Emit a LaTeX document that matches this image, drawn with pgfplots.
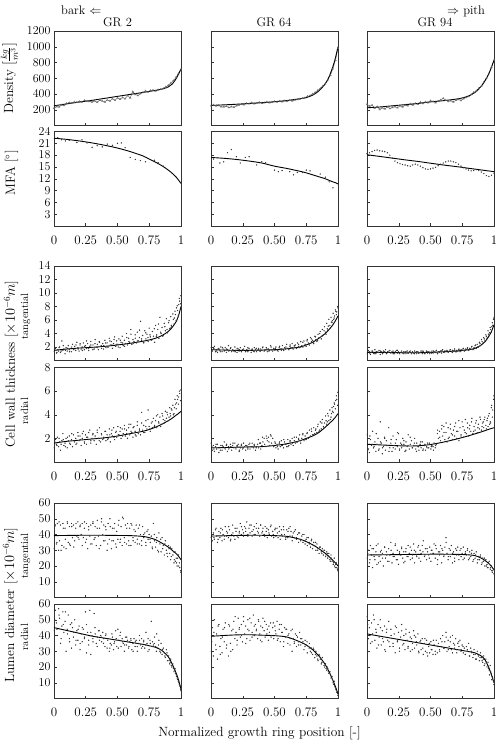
\documentclass[border=0pt]{standalone}
\usepackage{pgfplots}
\usepackage{pgfplotstable}
\pgfplotsset{compat=1.18}

% Measured density profiles (kg/m^3)
\pgfplotstableread{
x d2 d64 d94
0.00 220 250 270
0.02 240 262 245
0.04 235 248 260
0.06 262 255 220
0.08 255 240 240
0.10 280 235 205
0.12 290 245 225
0.14 285 228 210
0.16 300 240 235
0.18 295 232 215
0.20 305 250 230
0.22 298 262 240
0.24 318 270 225
0.26 310 265 250
0.28 305 280 235
0.30 300 275 260
0.32 312 290 250
0.34 295 278 275
0.36 320 285 262
0.38 310 295 280
0.40 300 282 270
0.42 325 290 295
0.44 310 300 280
0.46 340 288 300
0.48 320 295 290
0.50 350 305 315
0.52 335 298 305
0.54 355 310 290
0.56 340 302 310
0.58 380 315 325
0.60 350 308 345
0.62 430 320 320
0.64 395 312 305
0.66 380 325 315
0.68 405 330 300
0.70 420 338 320
0.72 440 345 330
0.74 425 352 318
0.76 445 370 340
0.78 450 380 355
0.80 440 400 370
0.82 455 420 395
0.84 460 445 420
0.86 470 470 440
0.88 490 500 470
0.90 510 530 500
0.92 540 580 550
0.94 570 640 600
0.96 610 720 660
0.98 660 830 740
1.00 710 980 830
}\density

% Fitted trends for all panels
\pgfplotstableread{
x    d2  d64  d94  m2   m64  m94   ct2  ct64 ct94 cr2  cr64 cr94 lt2  lt64 lt94 lr2  lr64 lr94
0    250 255  225  22.3 17.4 18.1  1.5  1.6  1.2  1.6  1.2  1.5  39.3 39.0 27.0 45.0 39.5 41.0
0.1  275 262  235  22.0 17.2 17.67 1.7  1.55 1.2  1.75 1.22 1.45 39.4 39.2 27.1 43.2 40.0 39.6
0.2  298 270  250  21.6 16.9 17.24 1.85 1.5  1.18 1.85 1.25 1.4  39.5 39.4 27.2 41.4 40.4 38.2
0.3  320 280  265  21.1 16.5 16.8  1.95 1.5  1.15 1.95 1.28 1.36 39.5 39.5 27.3 39.6 40.5 36.8
0.4  345 290  280  20.5 16.0 16.4  2.1  1.55 1.15 2.05 1.3  1.37 39.5 39.5 27.4 38.3 40.2 35.4
0.5  370 302  300  19.8 15.2 15.95 2.3  1.6  1.2  2.2  1.4  1.48 39.4 39.3 27.5 37.0 39.9 34.0
0.6  395 318  315  18.9 14.6 15.5  2.55 1.75 1.3  2.4  1.55 1.68 39.3 38.8 27.5 35.7 39.0 32.6
0.7  420 340  335  17.8 13.9 15.1  2.85 2.0  1.4  2.6  1.8  1.93 38.8 37.0 27.4 34.4 36.0 31.2
0.75 433 355  350  17.0 13.5 14.9  3.05 2.3  1.5  2.75 2.0  2.07 38.0 35.5 27.3 33.5 34.0 30.5
0.8  446 385  375  16.2 13.0 14.66 3.3  2.7  1.6  2.95 2.2  2.22 36.7 33.5 27.1 32.5 31.0 29.8
0.85 462 440  420  15.3 12.5 14.45 3.7  3.3  1.8  3.2  2.5  2.38 34.5 31.0 26.6 30.5 27.0 29.0
0.9  490 530  500  14.2 12.0 14.23 4.3  4.0  2.3  3.5  2.95 2.55 32.0 28.0 25.0 26.5 21.5 27.0
0.93 525 620  570  13.4 11.6 14.1  4.9  4.6  2.8  3.7  3.25 2.66 30.0 26.0 23.5 22.0 17.0 24.5
0.96 590 750  660  12.5 11.2 13.97 5.7  5.3  3.6  3.95 3.55 2.77 28.0 23.5 21.5 16.5 11.5 19.5
0.98 650 860  740  11.7 11.0 13.89 6.6  5.9  4.3  4.1  3.8  2.84 26.3 22.0 19.8 12.0 7.5  15.0
1.0  720 1000 830  10.8 10.7 13.8  8.0  6.6  5.3  4.3  4.1  2.9  24.0 20.0 17.5 6.0  3.0  10.0
}\fits

% Microfibril angle measurements (degrees)
\pgfplotstableread{
x m
0.03 22.4
0.06 21.9
0.09 21.6
0.12 21.8
0.18 21.2
0.22 21.9
0.26 21.1
0.30 20.0
0.34 20.4
0.38 20.1
0.42 20.8
0.46 20.5
0.50 21.0
0.53 21.1
0.56 19.9
0.60 17.4
0.64 16.9
0.68 16.6
0.72 16.3
0.79 16.7
0.82 16.1
0.86 15.2
}\mfaA
\pgfplotstableread{
x m
0.02 17.0
0.07 16.0
0.10 16.3
0.13 18.6
0.16 19.4
0.20 17.6
0.23 16.0
0.27 17.4
0.30 17.6
0.36 15.5
0.40 16.3
0.43 16.1
0.50 14.2
0.53 13.8
0.56 14.1
0.62 13.8
0.65 13.0
0.68 13.6
0.72 13.6
0.75 14.2
0.78 14.0
0.86 13.2
0.90 12.4
0.93 11.2
0.96 9.7
}\mfaB
\pgfplotstableread{
x m
0.00 18.4
0.02 18.6
0.04 18.9
0.06 19.2
0.08 19.3
0.10 19.1
0.12 19.0
0.14 18.9
0.16 18.6
0.18 18.0
0.20 17.2
0.22 16.5
0.24 16.1
0.26 15.8
0.28 15.6
0.30 15.5
0.32 15.3
0.34 15.2
0.36 15.5
0.38 15.7
0.40 15.5
0.42 15.2
0.44 14.8
0.46 14.5
0.48 14.4
0.50 14.5
0.52 14.7
0.54 14.9
0.56 15.3
0.58 15.7
0.60 16.0
0.62 16.3
0.64 16.5
0.66 16.5
0.68 16.3
0.70 16.1
0.72 15.7
0.74 15.2
0.76 14.8
0.78 14.5
0.80 14.2
0.82 14.0
0.84 14.1
0.86 14.3
0.88 14.1
0.90 13.7
0.92 13.3
0.94 12.8
0.96 12.6
0.98 12.9
1.00 13.4
}\mfaC

% Cell wall thickness (1e-6 m): tangential t*, radial r*
\pgfplotstableread{
x t2 t64 t94 r2 r64 r94
0.002 1.3 1.9 1.0 1.2 1.6 2.3
0.011 1.8 1.4 1.5 1.9 1.0 1.1
0.019 1.1 1.7 1.3 1.5 1.4 0.8
0.027 1.6 2.1 0.9 2.1 0.9 1.9
0.036 1.4 1.3 1.2 1.3 1.3 1.4
0.044 2.0 1.6 1.4 1.7 1.1 2.6
0.051 1.2 1.2 1.1 1.0 1.5 1.2
0.062 2.9 1.8 1.6 1.8 0.8 1.7
0.070 1.5 1.5 1.0 2.4 1.2 0.9
0.078 1.7 2.0 1.3 1.4 1.4 1.5
0.087 1.0 1.3 1.2 1.6 1.0 2.0
0.095 1.9 1.7 1.5 2.0 1.3 1.1
0.104 1.4 1.4 0.9 1.2 1.7 3.4
0.112 2.2 1.9 1.3 1.8 1.1 1.6
0.121 1.6 1.2 1.1 2.2 1.4 0.7
0.129 1.8 1.6 1.4 1.5 0.9 1.3
0.138 1.3 2.2 1.2 1.9 1.3 2.1
0.146 2.4 1.5 1.6 1.3 1.2 1.0
0.153 1.7 1.8 1.0 2.3 1.5 1.8
0.163 2.1 1.3 1.3 1.7 1.0 1.4
0.171 1.5 1.6 1.2 2.0 1.4 2.9
0.180 2.7 1.4 1.5 1.6 1.2 1.2
0.188 1.9 2.0 1.1 2.5 1.6 1.6
0.197 1.4 1.5 1.3 1.8 1.1 0.9
0.205 2.3 1.2 1.4 2.2 1.3 2.2
0.214 1.7 1.7 1.0 1.4 1.5 1.4
0.222 2.0 1.4 1.2 2.0 0.9 1.1
0.231 2.6 1.9 1.5 2.6 1.2 1.9
0.239 1.6 1.3 1.1 1.7 1.4 1.3
0.248 2.2 1.6 1.3 2.3 1.1 2.4
0.256 1.8 1.5 1.0 1.5 1.6 1.0
0.265 2.5 2.1 1.2 2.1 1.3 1.6
0.273 1.5 1.4 1.4 1.9 1.0 1.2
0.282 2.1 1.6 1.1 2.7 1.4 2.0
0.290 2.8 1.3 1.3 1.6 1.2 1.5
0.299 1.9 1.8 1.2 2.0 1.5 0.9
0.307 2.3 1.5 1.0 2.4 1.1 1.7
0.316 1.7 1.2 1.4 1.8 1.3 1.3
0.324 3.1 1.7 1.1 2.2 1.6 2.3
0.333 2.0 1.4 1.3 1.5 1.2 1.1
0.341 2.4 1.9 1.2 2.5 1.4 1.5
0.350 1.6 1.6 1.0 2.0 1.0 1.8
0.358 2.7 1.3 1.3 2.9 1.3 1.2
0.367 2.1 1.5 1.1 1.7 1.5 1.4
0.375 1.8 1.8 1.4 2.3 1.2 2.0
0.384 2.5 1.4 1.2 1.9 1.6 1.1
0.392 2.2 1.7 1.0 2.1 1.1 1.6
0.401 3.0 1.5 1.3 2.6 1.4 1.3
0.409 1.9 2.0 1.1 1.8 1.7 1.0
0.418 2.6 1.4 1.2 2.3 2.0 1.5
0.426 2.0 1.6 1.4 2.0 1.3 1.2
0.435 3.3 1.9 1.0 2.8 2.2 1.7
0.443 2.3 1.3 1.3 1.7 1.8 1.1
0.452 2.8 1.7 1.1 2.4 2.1 1.4
0.460 1.8 1.5 1.2 2.2 1.4 1.0
0.469 2.5 2.2 1.4 2.9 2.3 1.3
0.477 3.5 1.6 1.1 1.9 1.6 1.6
0.486 2.1 1.4 1.3 2.5 2.0 1.2
0.494 2.9 1.8 1.0 2.1 1.3 1.5
0.503 2.4 1.5 1.2 3.0 1.7 1.1
0.511 3.2 2.0 1.4 2.3 1.2 1.4
0.520 1.9 1.6 1.1 2.6 1.5 1.3
0.528 2.7 1.4 1.3 2.0 1.1 1.6
0.537 3.6 1.9 1.2 2.8 1.6 1.2
0.545 2.2 1.7 1.5 2.4 1.3 1.5
0.554 3.0 1.5 1.1 3.1 1.8 2.4
0.562 2.5 2.2 1.3 2.2 1.4 2.0
0.571 4.0 1.6 1.2 2.7 1.2 2.6
0.579 2.3 1.9 1.4 2.0 1.7 1.8
0.588 3.3 1.7 1.1 2.9 1.5 2.8
0.596 2.7 2.4 1.6 2.3 1.3 2.2
0.605 4.6 1.8 1.2 3.2 1.9 3.0
0.613 2.4 1.6 1.4 2.5 1.4 1.9
0.622 3.1 2.1 1.3 2.1 1.7 2.5
0.630 2.8 1.9 1.5 3.0 1.5 1.7
0.639 3.8 2.5 1.2 2.6 2.0 2.9
0.647 2.6 1.7 1.4 2.2 1.4 2.1
0.656 4.2 2.0 1.6 3.4 1.8 3.2
0.664 2.9 2.3 1.3 2.4 1.6 2.4
0.673 3.4 1.8 1.5 2.8 2.1 1.9
0.681 5.8 2.6 1.4 2.3 1.7 2.7
0.690 3.0 2.1 1.7 4.2 1.9 2.2
0.698 3.7 1.9 1.3 2.7 2.3 3.3
0.707 2.6 2.8 1.5 3.1 1.6 2.0
0.715 4.4 2.2 1.4 2.5 2.0 2.6
0.724 3.2 2.0 1.7 3.5 2.4 1.8
0.732 3.9 2.9 1.3 2.8 1.8 2.9
0.741 2.8 2.4 1.6 4.4 2.2 2.3
0.749 4.8 2.1 1.5 3.0 1.9 3.4
0.758 3.5 3.1 1.8 2.6 2.5 2.1
0.766 3.0 2.6 1.4 3.3 2.0 2.7
0.775 4.3 2.3 1.7 2.9 2.7 3.6
0.783 3.6 3.4 1.6 3.7 2.2 2.4
0.792 2.7 2.8 1.9 3.1 2.6 2.9
0.800 5.2 3.0 1.5 3.5 2.3 2.2
0.809 3.8 2.5 1.8 2.9 2.9 3.1
0.817 4.6 3.6 1.7 4.0 2.4 2.6
0.826 3.3 3.1 2.1 3.3 2.8 3.7
0.834 6.4 2.8 1.6 3.8 2.5 2.4
0.843 4.0 3.9 1.9 3.2 3.2 3.0
0.851 4.9 3.4 2.2 4.1 2.6 2.7
0.860 3.7 4.3 1.8 3.6 3.4 3.5
0.868 5.5 3.2 2.4 3.3 2.8 2.5
0.877 4.4 4.6 2.0 4.3 3.6 3.2
0.885 6.2 3.8 2.7 3.7 3.0 2.8
0.894 4.1 5.0 2.2 4.0 3.3 3.6
0.902 5.6 4.2 3.1 3.5 3.9 2.7
0.911 4.7 5.5 2.5 4.6 3.2 3.3
0.919 6.5 4.5 3.4 3.9 4.1 2.9
0.928 5.0 6.1 2.9 4.4 3.5 3.8
0.936 6.9 5.2 3.8 4.8 4.4 3.1
0.945 5.4 6.4 3.3 4.1 3.8 3.5
0.953 7.3 5.6 4.4 5.3 4.6 3.0
0.962 5.9 7.0 3.7 4.5 4.2 4.1
0.970 8.1 6.3 4.9 5.6 5.0 3.4
0.979 6.7 7.5 4.2 4.9 4.5 4.6
0.987 9.2 6.8 5.6 6.0 5.6 3.8
0.996 8.4 8.0 6.1 5.2 4.8 5.3
0.006 1.6 1.5 1.3 1.7 1.3 1.0
0.023 1.2 1.8 1.1 1.4 1.1 2.2
0.040 1.9 1.4 1.4 2.0 1.5 1.5
0.056 1.4 1.7 1.0 1.5 1.2 1.3
0.073 2.2 1.3 1.3 1.9 1.0 2.4
0.090 1.5 1.9 1.2 1.3 1.4 1.0
0.106 1.8 1.5 1.4 2.1 1.2 1.7
0.123 1.3 1.7 1.0 1.6 1.5 1.2
0.140 2.0 1.4 1.3 2.4 1.1 2.0
0.156 1.6 1.9 1.1 1.8 1.3 1.4
0.173 2.3 1.5 1.4 1.5 1.6 0.9
0.190 1.7 1.3 1.2 2.2 1.2 1.9
0.206 2.5 1.8 1.0 1.9 1.4 1.2
0.223 1.5 1.6 1.3 2.4 1.0 1.6
0.240 2.1 1.4 1.5 1.6 1.5 2.5
0.256 2.9 1.7 1.1 2.1 1.2 1.1
0.273 1.8 1.3 1.2 2.5 1.4 1.5
0.290 2.3 1.9 1.0 1.8 1.1 1.8
0.306 1.6 1.5 1.3 2.3 1.6 1.0
0.323 2.5 1.6 1.1 2.0 1.3 1.4
0.340 1.9 1.3 1.4 2.7 1.5 2.1
0.356 2.8 1.8 1.2 1.8 1.2 1.2
0.373 2.2 1.6 1.0 2.4 1.9 1.6
0.390 1.7 1.4 1.3 2.0 1.6 0.9
0.406 2.6 1.9 1.1 2.6 2.1 1.3
0.423 2.0 1.5 1.2 1.9 1.5 1.7
0.440 2.9 1.7 1.4 2.3 2.0 1.0
0.456 2.3 1.4 1.0 2.7 1.7 1.5
0.473 3.1 2.0 1.3 2.1 2.2 1.2
0.490 2.4 1.6 1.2 2.6 1.4 1.6
0.506 2.0 1.8 1.1 2.3 1.6 1.3
0.523 3.0 1.5 1.4 2.9 1.3 1.0
0.540 2.6 2.1 1.2 2.2 1.7 1.4
0.556 2.1 1.7 1.0 2.8 1.4 2.7
0.573 3.4 1.5 1.3 2.4 1.9 2.1
0.590 2.8 2.0 1.5 3.2 1.5 3.1
0.606 3.9 1.8 1.2 2.6 1.3 2.5
0.623 2.5 2.3 1.4 2.9 1.8 3.3
0.640 3.3 1.9 1.3 2.3 1.6 2.0
0.656 2.9 2.2 1.6 3.1 2.1 2.8
0.673 4.5 1.8 1.2 2.7 1.7 2.3
0.690 3.2 2.4 1.5 3.3 2.0 3.0
0.706 2.7 2.0 1.3 2.5 1.8 2.6
0.723 4.1 2.7 1.6 3.0 2.3 3.5
0.740 3.4 2.2 1.4 3.6 1.9 2.2
0.756 3.8 2.9 1.7 2.8 2.4 3.0
0.773 3.1 2.5 1.5 3.4 2.1 2.5
0.790 4.7 3.2 1.8 3.0 2.8 3.3
0.806 3.6 2.6 1.6 3.9 2.3 2.8
0.823 5.4 3.5 2.0 3.4 2.7 3.4
0.840 4.2 3.0 1.7 3.0 3.0 2.6
0.856 3.6 4.0 2.3 3.9 2.7 3.3
0.873 5.0 3.6 2.0 3.5 3.3 2.9
0.890 4.6 4.4 2.5 4.2 2.9 3.8
0.906 5.9 3.9 2.8 3.8 3.5 3.0
0.923 5.2 5.1 3.2 4.5 3.9 3.6
0.940 6.1 4.8 3.6 4.0 3.6 2.8
0.956 6.8 5.9 3.9 4.9 4.3 3.9
0.973 7.4 6.6 4.6 5.3 4.9 3.3
0.990 8.8 7.2 5.2 5.8 5.3 4.4
0.915 4.8 4.7 2.6 4.1 3.4 3.4
0.948 6.3 5.7 3.4 4.6 4.1 3.7
0.965 7.8 6.1 4.1 5.0 4.7 3.2
0.982 8.3 7.3 5.0 5.5 5.2 4.8
0.999 9.6 7.8 6.3 6.1 5.9 5.6
}\cwt

% Lumen diameter (1e-6 m): tangential t*, radial r*
\pgfplotstableread{
x t2 t64 t94 r2 r64 r94
0.002 31 38 25 43 30 52
0.011 46 36 30 56 45 38
0.019 34 41 22 48 27 45
0.027 47 37 33 40 50 35
0.036 30 43 27 57 34 48
0.044 36 39 19 51 41 41
0.051 46 35 31 35 25 53
0.062 33 42 24 46 47 37
0.070 47 38 29 55 33 44
0.078 32 44 21 42 38 32
0.087 44 36 34 49 29 47
0.095 31 40 26 30 44 39
0.104 48 37 23 44 36 50
0.112 35 45 30 53 48 34
0.121 45 39 28 38 32 43
0.129 33 41 20 47 40 36
0.138 47 38 32 32 27 46
0.146 38 43 25 45 46 30
0.153 46 36 29 39 35 42
0.163 36 40 23 50 43 37
0.171 44 46 31 34 31 49
0.180 39 39 27 43 49 33
0.188 48 37 35 37 38 44
0.197 37 42 22 46 42 38
0.205 45 44 28 31 34 35
0.214 40 38 26 41 51 41
0.222 47 41 33 36 44 29
0.231 38 47 24 44 39 45
0.239 44 40 30 38 47 36
0.248 35 43 21 55 36 42
0.256 47 39 29 29 52 32
0.265 31 45 27 42 41 39
0.273 43 42 32 37 46 47
0.282 39 48 25 56 38 34
0.290 46 40 29 28 50 40
0.299 34 44 23 40 43 31
0.307 48 41 31 36 37 44
0.316 37 46 26 54 48 37
0.324 45 39 33 41 42 33
0.333 33 43 28 35 53 42
0.341 49 45 24 39 40 30
0.350 39 40 30 43 47 38
0.358 44 47 27 37 44 35
0.367 33 42 34 40 38 43
0.375 50 44 22 36 49 32
0.384 40 39 29 42 41 39
0.392 46 46 26 38 46 34
0.401 36 41 32 33 36 41
0.409 43 44 25 41 51 29
0.418 30 40 30 32 43 36
0.426 47 45 28 38 39 31
0.435 37 42 33 30 47 38
0.443 45 38 36 35 44 28
0.452 31 43 26 34 37 35
0.460 44 40 31 39 42 30
0.469 36 45 24 31 48 37
0.477 47 39 29 36 40 27
0.486 34 42 27 43 45 33
0.494 42 38 32 33 38 29
0.503 37 43 23 44 46 36
0.511 49 39 30 37 41 31
0.520 35 44 28 40 49 28
0.528 45 38 34 33 38 34
0.537 33 42 25 38 44 30
0.545 50 37 31 35 36 37
0.554 38 43 21 30 47 29
0.562 46 39 29 39 42 35
0.571 34 45 27 34 33 31
0.579 47 40 33 37 45 38
0.588 36 37 22 32 39 33
0.596 44 43 30 36 44 40
0.605 33 38 26 38 35 32
0.613 46 44 32 31 41 36
0.622 38 39 38 35 34 42
0.630 43 42 28 38 43 30
0.639 35 36 24 33 30 37
0.647 46 41 31 37 38 33
0.656 37 38 26 30 35 39
0.664 44 43 33 35 41 31
0.673 34 37 22 40 33 40
0.681 40 40 29 34 39 35
0.690 36 35 25 38 36 32
0.698 45 41 31 33 42 38
0.707 38 37 27 37 34 29
0.715 41 39 32 32 38 35
0.724 33 35 24 42 36 33
0.732 42 40 30 35 31 37
0.741 37 34 26 38 37 31
0.749 40 37 28 31 34 34
0.758 35 33 32 35 29 29
0.766 39 38 25 49 33 32
0.775 31 35 29 36 35 28
0.783 47 32 27 34 30 33
0.792 36 37 31 39 32 30
0.800 32 31 24 33 28 35
0.809 38 35 29 41 31 27
0.817 30 33 26 32 26 32
0.826 41 30 30 37 30 29
0.834 34 34 23 30 27 26
0.843 29 31 28 35 24 31
0.851 38 28 25 28 28 28
0.860 33 32 29 32 25 25
0.868 27 29 22 29 22 30
0.877 36 31 26 26 26 27
0.885 30 27 24 31 23 24
0.894 26 30 27 24 20 29
0.902 33 26 21 27 22 26
0.911 28 29 25 22 18 23
0.919 24 25 23 25 19 27
0.928 31 28 20 20 16 22
0.936 27 24 24 22 17 25
0.945 22 27 21 17 13 20
0.953 29 23 19 19 14 23
0.962 25 21 23 15 10 18
0.970 20 25 18 13 11 21
0.979 27 19 20 11 7 16
0.987 22 22 16 9 5 14
0.996 17 18 18 6 3 11
0.006 45 40 28 50 36 47
0.023 35 38 24 44 42 40
0.040 48 44 31 53 31 36
0.056 30 37 26 38 46 50
0.073 44 41 33 47 28 42
0.090 37 43 22 55 39 34
0.106 47 39 29 41 45 45
0.123 34 42 25 36 34 38
0.140 45 45 32 48 47 31
0.156 32 37 27 42 30 44
0.173 47 41 23 37 44 36
0.190 38 44 30 44 52 40
0.206 46 39 26 35 37 33
0.223 33 42 34 45 45 46
0.240 48 45 24 39 40 37
0.256 37 41 28 47 49 30
0.273 45 44 31 34 35 43
0.290 34 39 22 42 44 35
0.306 47 46 29 38 51 41
0.323 38 42 26 45 39 32
0.340 44 40 32 33 46 39
0.356 31 44 25 43 43 31
0.373 48 41 30 39 50 40
0.390 36 46 27 35 37 36
0.406 45 42 33 40 45 30
0.423 34 39 23 37 49 37
0.440 50 44 29 32 41 32
0.456 36 41 27 41 46 38
0.473 44 46 31 35 39 29
0.490 32 40 25 38 48 35
0.506 46 44 30 32 43 31
0.523 37 41 28 42 37 37
0.540 51 45 33 36 47 28
0.556 35 40 24 34 42 33
0.573 44 43 29 39 36 30
0.590 33 38 31 33 44 36
0.606 47 42 27 37 40 32
0.623 36 45 35 30 38 39
0.640 42 39 26 36 44 31
0.656 34 42 30 33 36 36
0.673 46 38 28 37 40 29
0.690 33 41 23 32 34 34
0.706 40 36 30 36 38 31
0.723 35 40 27 34 35 36
0.740 43 36 31 30 33 30
0.756 37 38 24 37 36 33
0.773 32 34 28 33 32 28
0.790 40 36 30 35 29 31
0.806 35 33 25 30 32 27
0.823 29 35 28 34 28 30
0.840 37 30 24 29 25 28
0.856 31 32 27 31 27 25
0.873 34 28 24 27 23 28
0.890 28 30 26 29 21 26
0.906 31 27 22 24 19 24
0.923 26 26 25 21 17 21
0.940 29 23 20 19 15 23
0.956 23 24 22 16 12 19
0.973 25 20 19 12 8 17
0.990 19 19 17 8 4 13
0.915 32 28 23 23 20 25
0.948 24 25 19 18 14 21
0.965 22 22 21 14 9 15
0.982 20 21 17 10 6 12
0.999 16 17 15 5 2 9
}\lum

\pgfplotsset{
  panel/.style={
    scale only axis, width=127pt, height=94.5pt,
    anchor=north west,
    xmin=0, xmax=1,
    xtick={0,0.25,0.5,0.75,1},
    xticklabels={},
    xtick pos=bottom, ytick pos=left,
    tick align=inside,
    major tick length=3pt,
    axis line style={black!80, line width=0.7pt},
    tick style={black!80, line width=0.5pt},
    tick label style={font=\fontsize{13}{15}\selectfont},
    xticklabel style={yshift=-6pt},
    scaled ticks=false,
    /pgf/number format/1000 sep={},
  },
  lab/.style={xticklabels={0,0.25,0.50,0.75,1}},
  noy/.style={yticklabels={}},
  fit/.style={black, line width=0.9pt, smooth, no marks},
  pts/.style={only marks, mark=*, mark size=0.42pt, black!80},
  dens/.style={black!60, line width=0.45pt, mark=triangle, mark size=1pt,
    mark options={line width=0.3pt, solid}},
  rowA/.style={ymin=0, ymax=1200, ytick={200,400,600,800,1000,1200}},
  rowB/.style={ymin=0, ymax=24, ytick={3,6,9,12,15,18,21,24}, lab},
  rowC/.style={ymin=0, ymax=14, ytick={2,4,6,8,10,12,14}},
  rowD/.style={ymin=0, ymax=8, ytick={2,4,6,8}, lab},
  rowE/.style={ymin=0, ymax=60, ytick={10,20,30,40,50,60}},
  rowF/.style={ymin=0, ymax=60, ytick={10,20,30,40,50,60}, lab},
}

\begin{document}
\begin{tikzpicture}
\path[use as bounding box] (0,0) rectangle (497pt,-742pt);

% ---- Density ----
\begin{axis}[panel, rowA, at={(54pt,-31pt)}]
  \addplot[dens] table[x=x, y=d2] {\density};
  \addplot[fit] table[x=x, y=d2] {\fits};
\end{axis}
\begin{axis}[panel, rowA, noy, at={(211pt,-31pt)}]
  \addplot[dens] table[x=x, y=d64] {\density};
  \addplot[fit] table[x=x, y=d64] {\fits};
\end{axis}
\begin{axis}[panel, rowA, noy, at={(367pt,-31pt)}]
  \addplot[dens] table[x=x, y=d94] {\density};
  \addplot[fit] table[x=x, y=d94] {\fits};
\end{axis}

% ---- MFA ----
\begin{axis}[panel, rowB, at={(54pt,-131.5pt)}]
  \addplot[pts] table[x=x, y=m] {\mfaA};
  \addplot[fit] table[x=x, y=m2] {\fits};
\end{axis}
\begin{axis}[panel, rowB, noy, at={(211pt,-131.5pt)}]
  \addplot[pts] table[x=x, y=m] {\mfaB};
  \addplot[fit] table[x=x, y=m64] {\fits};
\end{axis}
\begin{axis}[panel, rowB, noy, at={(367pt,-131.5pt)}]
  \addplot[pts] table[x=x, y=m] {\mfaC};
  \addplot[fit] table[x=x, y=m94] {\fits};
\end{axis}

% ---- Cell wall thickness, tangential ----
\begin{axis}[panel, rowC, at={(54pt,-266pt)}]
  \addplot[pts] table[x=x, y=t2] {\cwt};
  \addplot[fit] table[x=x, y=ct2] {\fits};
\end{axis}
\begin{axis}[panel, rowC, noy, at={(211pt,-266pt)}]
  \addplot[pts] table[x=x, y=t64] {\cwt};
  \addplot[fit] table[x=x, y=ct64] {\fits};
\end{axis}
\begin{axis}[panel, rowC, noy, at={(367pt,-266pt)}]
  \addplot[pts] table[x=x, y=t94] {\cwt};
  \addplot[fit] table[x=x, y=ct94] {\fits};
\end{axis}

% ---- Cell wall thickness, radial ----
\begin{axis}[panel, rowD, at={(54pt,-367.5pt)}]
  \addplot[pts] table[x=x, y=r2] {\cwt};
  \addplot[fit] table[x=x, y=cr2] {\fits};
\end{axis}
\begin{axis}[panel, rowD, noy, at={(211pt,-367.5pt)}]
  \addplot[pts] table[x=x, y=r64] {\cwt};
  \addplot[fit] table[x=x, y=cr64] {\fits};
\end{axis}
\begin{axis}[panel, rowD, noy, at={(367pt,-367.5pt)}]
  \addplot[pts] table[x=x, y=r94] {\cwt};
  \addplot[fit] table[x=x, y=cr94] {\fits};
\end{axis}

% ---- Lumen diameter, tangential ----
\begin{axis}[panel, rowE, at={(54pt,-503pt)}]
  \addplot[pts] table[x=x, y=t2] {\lum};
  \addplot[fit] table[x=x, y=lt2] {\fits};
\end{axis}
\begin{axis}[panel, rowE, noy, at={(211pt,-503pt)}]
  \addplot[pts] table[x=x, y=t64] {\lum};
  \addplot[fit] table[x=x, y=lt64] {\fits};
\end{axis}
\begin{axis}[panel, rowE, noy, at={(367pt,-503pt)}]
  \addplot[pts] table[x=x, y=t94] {\lum};
  \addplot[fit] table[x=x, y=lt94] {\fits};
\end{axis}

% ---- Lumen diameter, radial ----
\begin{axis}[panel, rowF, at={(54pt,-604pt)}]
  \addplot[pts] table[x=x, y=r2] {\lum};
  \addplot[fit] table[x=x, y=lr2] {\fits};
\end{axis}
\begin{axis}[panel, rowF, noy, at={(211pt,-604pt)}]
  \addplot[pts] table[x=x, y=r64] {\lum};
  \addplot[fit] table[x=x, y=lr64] {\fits};
\end{axis}
\begin{axis}[panel, rowF, noy, at={(367pt,-604pt)}]
  \addplot[pts] table[x=x, y=r94] {\lum};
  \addplot[fit] table[x=x, y=lr94] {\fits};
\end{axis}

% ---- Titles and labels ----
\begin{scope}[every node/.style={font=\fontsize{12.5}{14}\selectfont, inner sep=0pt}]
  \node[anchor=base west] at (61pt,-14pt) {bark $\Leftarrow$};
  \node[anchor=base west] at (447pt,-14pt) {$\Rightarrow$ pith};
  \node[anchor=base] at (117.5pt,-26.5pt) {GR 2};
  \node[anchor=base] at (274pt,-26.5pt) {GR 64};
  \node[anchor=base] at (435pt,-26.5pt) {GR 94};
\end{scope}
\node[font=\fontsize{13.4}{16}\selectfont, anchor=base, inner sep=0pt]
  at (259.5pt,-736.5pt) {Normalized growth ring position [-]};

\begin{scope}[every node/.style={font=\fontsize{13.3}{16}\selectfont, rotate=90, anchor=base, inner sep=0pt}]
  \node at (13pt,-78pt) {Density $[\frac{kg}{m^3}]$};
  \node at (15pt,-173pt) {MFA [$^\circ$]};
  \node at (15pt,-364pt) {Cell wall thickness [$\times 10^{-6}m$]};
  \node at (14pt,-605pt) {Lumen diameter [$\times 10^{-6}m$]};
\end{scope}
\begin{scope}[every node/.style={font=\fontsize{10.5}{12}\selectfont, rotate=90, anchor=base, inner sep=0pt}]
  \node at (28pt,-316.5pt) {tangential};
  \node at (28pt,-411pt) {radial};
  \node at (28pt,-556pt) {tangential};
  \node at (28pt,-637pt) {radial};
\end{scope}
\end{tikzpicture}
\end{document}
